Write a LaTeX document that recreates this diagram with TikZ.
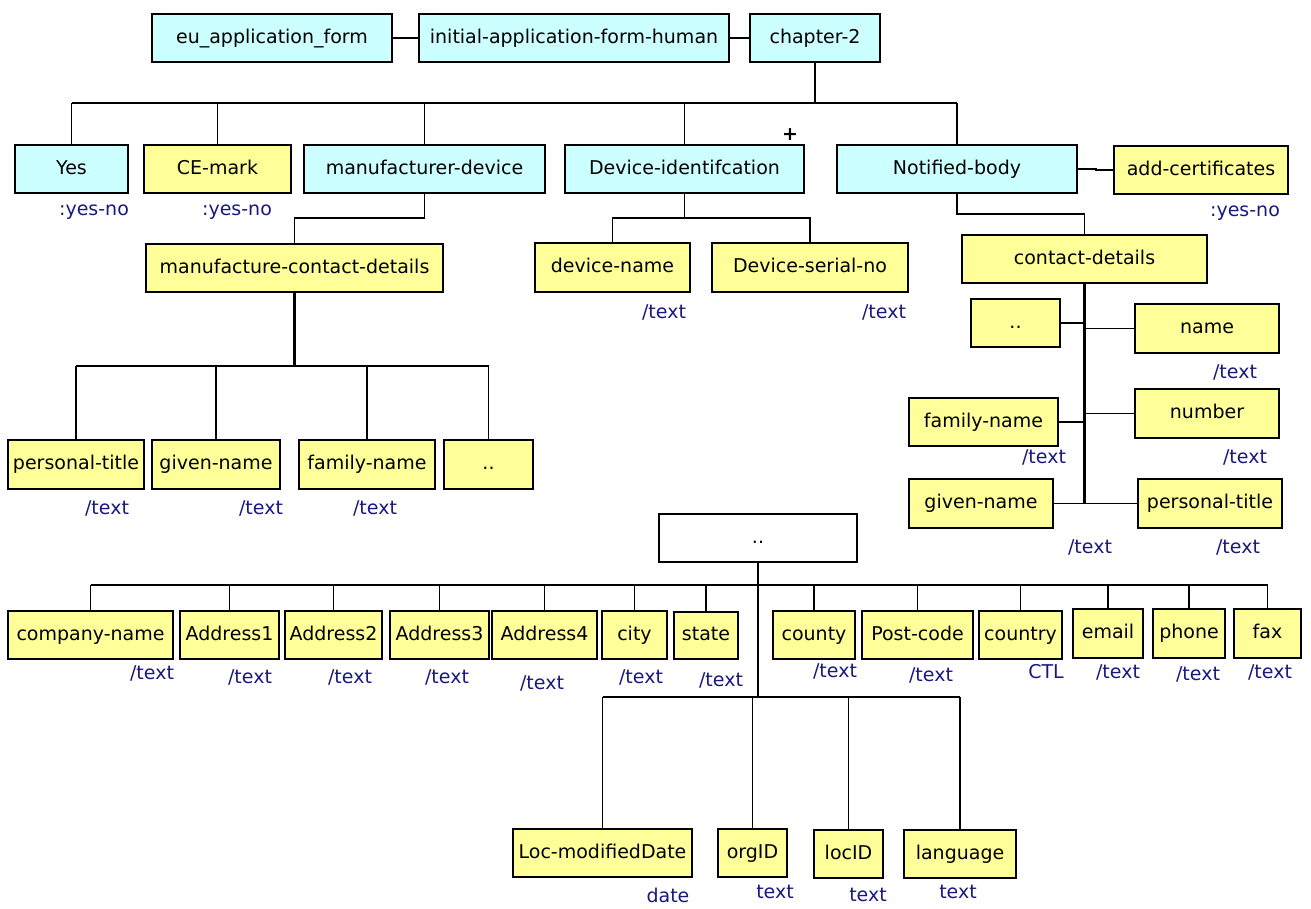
\documentclass[tikz,border=0pt]{standalone}
\usepackage{fontspec}
\setmainfont{DejaVu Sans}
\definecolor{cyanbox}{RGB}{204,255,255}
\definecolor{yellowbox}{RGB}{255,255,153}
\definecolor{labelblue}{RGB}{24,24,128}
\newcommand{\mybox}[7]{\node[#1,minimum width={(#4)-(#2)},minimum height={(#5)-(#3)}] (#6) at ({((#2)+(#4))/2},{((#3)+(#5))/2}) {#7};}
\newcommand{\mylbl}[4]{\node[lbl] (#1) at (#2,#3) {#4};}
\begin{document}
\begin{tikzpicture}[x=1pt,y=-1pt,
  box/.style={draw=black,line width=1.8pt,inner sep=0pt,text height=14pt,text depth=4pt,font=\fontsize{19}{22}\selectfont},
  cbox/.style={box,fill=cyanbox},
  ybox/.style={box,fill=yellowbox},
  wbox/.style={box,fill=white},
  lbl/.style={text=labelblue,inner sep=0pt,font=\fontsize{19}{22}\selectfont},
  conn/.style={line width=1.9pt},
  tconn/.style={line width=2.8pt}]
\useasboundingbox (0,0) rectangle (1311,908);
% top row
\mybox{cbox}{152}{14}{392}{62}{euf}{eu\_application\_form}
\mybox{cbox}{419}{14}{729}{62}{iafh}{initial-application-form-human}
\mybox{cbox}{750}{14}{880}{62}{ch2}{chapter-2}
% level 2
\mybox{cbox}{15}{145}{128}{193}{yes}{Yes}
\mybox{ybox}{144}{145}{291}{193}{ce}{CE-mark}
\mybox{cbox}{304}{145}{545}{193}{md}{manufacturer-device}
\mybox{cbox}{565}{145}{804}{193}{di}{Device-identifcation}
\mybox{cbox}{837}{145}{1077}{193}{nb}{Notified-body}
\mybox{ybox}{1114}{146}{1288}{194}{ac}{add-certificates}
\node[inner sep=0pt,font=\fontsize{19}{22}\selectfont\bfseries] (plus) at (790,135) {+};
% level 3
\mybox{ybox}{146}{244}{443}{292}{mcd}{manufacture-contact-details}
\mybox{ybox}{535}{243}{690}{292}{dn}{device-name}
\mybox{ybox}{712}{243}{908}{292}{dsn}{Device-serial-no}
\mybox{ybox}{962}{235}{1207}{283}{cd}{contact-details}
% manufacturer contact children
\mybox{ybox}{8}{440}{144}{489}{pta}{personal-title}
\mybox{ybox}{152}{440}{280}{489}{gna}{given-name}
\mybox{ybox}{299}{440}{435}{489}{fna}{family-name}
\mybox{ybox}{444}{440}{533}{489}{dda}{..}
% contact-details children
\mybox{ybox}{971}{299}{1060}{347}{ddb}{..}
\mybox{ybox}{1135}{304}{1279}{353}{nm}{name}
\mybox{ybox}{909}{398}{1058}{446}{fnb}{family-name}
\mybox{ybox}{1135}{389}{1279}{438}{nu}{number}
\mybox{ybox}{909}{479}{1053}{528}{gnb}{given-name}
\mybox{ybox}{1138}{479}{1282}{528}{ptb}{personal-title}
% bottom section
\mybox{wbox}{659}{514}{857}{562}{wb}{..}
\mybox{ybox}{8}{611}{173}{659}{cn}{company-name}
\mybox{ybox}{180}{611}{279}{659}{aa}{Address1}
\mybox{ybox}{285}{611}{382}{659}{ab}{Address2}
\mybox{ybox}{390}{611}{489}{659}{ac3}{Address3}
\mybox{ybox}{492}{611}{597}{659}{ad}{Address4}
\mybox{ybox}{602}{611}{667}{659}{city}{city}
\mybox{ybox}{674}{612}{738}{659}{state}{state}
\mybox{ybox}{773}{611}{855}{659}{county}{county}
\mybox{ybox}{862}{611}{973}{659}{pc}{Post-code}
\mybox{ybox}{979}{611}{1062}{659}{ctry}{country}
\mybox{ybox}{1073}{609}{1143}{658}{email}{email}
\mybox{ybox}{1153}{609}{1225}{658}{phone}{phone}
\mybox{ybox}{1234}{609}{1301}{658}{fax}{fax}
\mybox{ybox}{513}{829}{692}{877}{lmd}{Loc-modifiedDate}
\mybox{ybox}{718}{829}{787}{877}{org}{orgID}
\mybox{ybox}{814}{830}{883}{878}{loc}{locID}
\mybox{ybox}{904}{830}{1016}{878}{lang}{language}
% labels
\mylbl{yesl}{94}{212}{:yes-no}
\mylbl{cel}{237}{212}{:yes-no}
\mylbl{acl}{1245}{213}{:yes-no}
\mylbl{dnl}{664}{312}{/text}
\mylbl{dsnl}{884}{312}{/text}
\mylbl{ptal}{107}{508}{/text}
\mylbl{gnal}{261}{508}{/text}
\mylbl{fnal}{375}{508}{/text}
\mylbl{nml}{1235}{372}{/text}
\mylbl{nul}{1245}{457}{/text}
\mylbl{fnbl}{1044}{457}{/text}
\mylbl{gnbl}{1090}{547}{/text}
\mylbl{ptbl}{1238}{547}{/text}
\mylbl{cnl}{152}{673}{/text}
\mylbl{aal}{250}{677}{/text}
\mylbl{abl}{350}{677}{/text}
\mylbl{acl3}{447}{677}{/text}
\mylbl{adl}{542}{683}{/text}
\mylbl{cityl}{641}{677}{/text}
\mylbl{statel}{721}{680}{/text}
\mylbl{countyl}{835}{671}{/text}
\mylbl{pcl}{931}{675}{/text}
\mylbl{ctryl}{1046}{672}{CTL}
\mylbl{emaill}{1118}{672}{/text}
\mylbl{phonel}{1198}{674}{/text}
\mylbl{faxl}{1270}{672}{/text}
\mylbl{lmdl}{668}{895}{date}
\mylbl{orgl}{775}{892}{text}
\mylbl{locl}{868}{895}{text}
\mylbl{langl}{958}{892}{text}
% coordinates for buses
\coordinate (busA) at (0,103);
\coordinate (elbA) at (0,218);
\coordinate (elbB) at (0,218);
\coordinate (elbC) at (0,214);
\coordinate (busB) at (0,366);
\coordinate (busC) at (0,585);
\coordinate (busD) at (0,697);
% connectors top
\draw[conn] (euf.east) -- (iafh.west);
\draw[conn] (iafh.east) -- (ch2.west);
\draw[conn] (ch2.south) -- (ch2.south |- busA);
\draw[conn] (yes.north |- busA) -- (nb.north |- busA);
\foreach \n in {yes,ce,md,di,nb} \draw[conn] (\n.north) -- (\n.north |- busA);
\draw[conn] (nb.east) -- ++(18,0) |- (ac.west);
% manufacturer-device
\draw[conn] (md.south) -- (md.south |- elbA) -| (mcd.north);
\draw[tconn] (mcd.south) -- (mcd.south |- busB);
\draw[conn] (pta.north |- busB) -- (dda.north |- busB);
\foreach \n in {pta,gna,fna,dda} \draw[conn] (\n.north) -- (\n.north |- busB);
% device identification
\draw[conn] (di.south) -- (di.south |- elbB);
\draw[conn] (dn.north) |- (elbB -| di.south) -| (dsn.north);
% notified body
\draw[conn] (nb.south) -- (nb.south |- elbC) -| (cd.north);
\draw[line width=2.4pt] (cd.south) -- (cd.south |- gnb.east);
\draw[conn] (ddb.east) -- (ddb.east -| cd.south);
\draw[conn] (nm.west) -- (nm.west -| cd.south);
\draw[conn] (fnb.east) -- (fnb.east -| cd.south);
\draw[conn] (nu.west) -- (nu.west -| cd.south);
\draw[conn] (gnb.east) -- (gnb.east -| cd.south);
\draw[conn] (ptb.west) -- (ptb.west -| cd.south);
% bottom
\draw[tconn] (wb.south) -- (wb.south |- busD);
\draw[conn] (cn.north |- busC) -- (fax.north |- busC);
\foreach \n in {cn,aa,ab,ac3,ad,city,state,county,pc,ctry,email,phone,fax} \draw[conn] (\n.north) -- (\n.north |- busC);
\draw[conn] (lmd.north |- busD) -- (lang.north |- busD);
\foreach \n in {lmd,org,loc,lang} \draw[conn] (\n.north) -- (\n.north |- busD);
\end{tikzpicture}
\end{document}
